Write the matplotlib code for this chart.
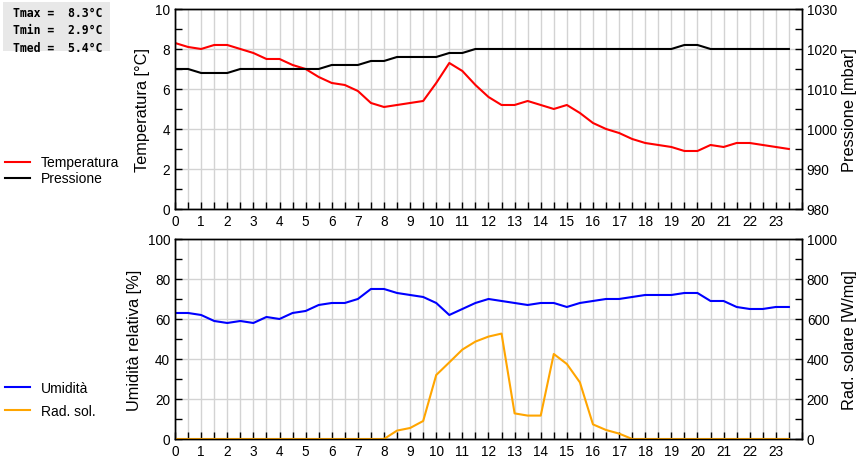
import matplotlib
matplotlib.use("Agg")
import matplotlib.pyplot as plt
import numpy as np
from matplotlib.patches import Rectangle
from matplotlib.ticker import MultipleLocator

plt.rcParams["font.family"] = ["Liberation Sans", "DejaVu Sans"]

# half-hourly readings, 0:00 .. 23:30
hours = np.arange(0, 24, 0.5)

temperatura = [8.3, 8.1, 8.0, 8.2, 8.2, 8.0, 7.8, 7.5, 7.5, 7.2,
               7.0, 6.6, 6.3, 6.2, 5.9, 5.3, 5.1, 5.2, 5.3, 5.4,
               6.3, 7.3, 6.9, 6.2, 5.6, 5.2, 5.2, 5.4, 5.2, 5.0,
               5.2, 4.8, 4.3, 4.0, 3.8, 3.5, 3.3, 3.2, 3.1, 2.9,
               2.9, 3.2, 3.1, 3.3, 3.3, 3.2, 3.1, 3.0]

pressione = [1015, 1015, 1014, 1014, 1014, 1015, 1015, 1015, 1015, 1015,
             1015, 1015, 1016, 1016, 1016, 1017, 1017, 1018, 1018, 1018,
             1018, 1019, 1019, 1020, 1020, 1020, 1020, 1020, 1020, 1020,
             1020, 1020, 1020, 1020, 1020, 1020, 1020, 1020, 1020, 1021,
             1021, 1020, 1020, 1020, 1020, 1020, 1020, 1020]

umidita = [63, 63, 62, 59, 58, 59, 58, 61, 60, 63,
           64, 67, 68, 68, 70, 75, 75, 73, 72, 71,
           68, 62, 65, 68, 70, 69, 68, 67, 68, 68,
           66, 68, 69, 70, 70, 71, 72, 72, 72, 73,
           73, 69, 69, 66, 65, 65, 66, 66]

rad_sol = [0, 0, 0, 0, 0, 0, 0, 0, 0, 0,
           0, 0, 0, 0, 0, 0, 0, 42, 55, 90,
           320, 383, 447, 487, 512, 527, 128, 117, 117, 425,
           375, 283, 73, 45, 27, 0, 0, 0, 0, 0,
           0, 0, 0, 0, 0, 0, 0, 0]

t_stats = ["Tmax =  8.3°C", "Tmin =  2.9°C", "Tmed =  5.4°C"]

GRID = "#d3d3d3"


def style_axes(ax, ax2, ylim, ystep, ylim2, ystep2):
    ax.set_xlim(0, 24)
    ax.set_ylim(*ylim)
    ax2.set_ylim(*ylim2)
    ax.set_xticks(range(24))
    ax.xaxis.set_minor_locator(MultipleLocator(0.5))
    ax.yaxis.set_major_locator(MultipleLocator(ystep))
    ax.yaxis.set_minor_locator(MultipleLocator(ystep / 2))
    ax2.yaxis.set_major_locator(MultipleLocator(ystep2))
    ax2.yaxis.set_minor_locator(MultipleLocator(ystep2 / 2))
    ax.grid(True, which="both", axis="x", color=GRID, lw=1)
    ax.grid(True, which="major", axis="y", color=GRID, lw=1)
    ax.set_axisbelow(True)
    for a in (ax, ax2):
        a.tick_params(which="both", direction="in", length=5, width=1,
                      labelsize=9.8, top=False)
        for s in a.spines.values():
            s.set_linewidth(1)
    ax.tick_params(axis="y", which="both", right=False)
    ax2.tick_params(axis="y", which="both", left=False, right=True)


fig = plt.figure(figsize=(8.6, 4.6), dpi=100)
ax_t = fig.add_axes([0.2035, 0.5435, 0.729, 0.4348])
ax_p = ax_t.twinx()
ax_h = fig.add_axes([0.2035, 0.0435, 0.729, 0.4348])
ax_r = ax_h.twinx()

l_t, = ax_t.plot(hours, temperatura, color="#ff0000", lw=1.5)
l_p, = ax_p.plot(hours, pressione, color="black", lw=1.5)
l_h, = ax_h.plot(hours, umidita, color="#0000ff", lw=1.5)
l_r, = ax_r.plot(hours, rad_sol, color="#ffa500", lw=1.5)

style_axes(ax_t, ax_p, (0, 10), 2, (980, 1030), 10)
style_axes(ax_h, ax_r, (0, 100), 20, (0, 1000), 200)

ax_t.set_ylabel("Temperatura [°C]", fontsize=11.8)
ax_p.set_ylabel("Pressione [mbar]", fontsize=11.8)
ax_h.set_ylabel("Umidità relativa [%]", fontsize=11.8)
ax_r.set_ylabel("Rad. solare [W/mq]", fontsize=11.8)

fig.legend([l_t, l_p], ["Temperatura", "Pressione"], loc="upper left",
           bbox_to_anchor=(0.006, 0.66), frameon=False, fontsize=10,
           borderpad=0, borderaxespad=0, handlelength=1.8,
           handletextpad=0.75, labelspacing=0.15)
fig.legend([l_h, l_r], ["Umidità", "Rad. sol."], loc="upper left",
           bbox_to_anchor=(0.006, 0.169), frameon=False, fontsize=10,
           borderpad=0, borderaxespad=0, handlelength=1.8,
           handletextpad=0.75, labelspacing=0.6)

# grey box with the daily temperature summary
fig.patches.append(Rectangle((3 / 860, 1 - 52 / 460), 107 / 860, 49 / 460,
                             transform=fig.transFigure, facecolor="#e8e8e8",
                             edgecolor="none"))
fig.text(13 / 860, 1 - 31 / 460, "\n".join(t_stats), family="DejaVu Sans Mono",
         weight="bold", fontsize=8.3, va="center", ha="left", linespacing=1.45)

fig.savefig("out.png", dpi=100)
